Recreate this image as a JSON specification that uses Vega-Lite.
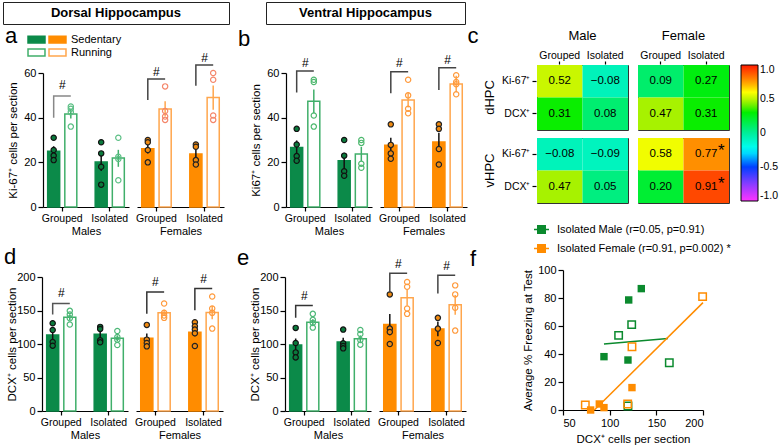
{
"$schema": "https://vega.github.io/schema/vega-lite/v6.json",
"padding": {"left": 2, "top": 1, "right": 0, "bottom": 0},
"background": "white",
"config": {
  "font": "Liberation Sans",
  "view": {"stroke": null},
  "axis": {"domainColor": "#000000", "tickColor": "#000000", "labelColor": "#000000", "titleColor": "#000000", "grid": false, "titleFontWeight": "normal", "domainWidth": 1.2, "tickWidth": 1.2},
  "legend": {"labelColor": "#000000", "titleColor": "#000000"},
  "header": {"labelColor": "#000000"},
  "title": {"color": "#000000", "fontWeight": "normal"}
},
"datasets": {
  "bars": [
    {"panel":"a","sex":"Male","housing":"Grouped","activity":"Sedentary","grp":"Male Sedentary","v":25,"lo":22.8,"hi":27.2},
    {"panel":"a","sex":"Male","housing":"Grouped","activity":"Running","grp":"Male Running","v":41.6,"lo":39.6,"hi":43.6},
    {"panel":"a","sex":"Male","housing":"Isolated","activity":"Sedentary","grp":"Male Sedentary","v":20.1,"lo":16.1,"hi":24.1},
    {"panel":"a","sex":"Male","housing":"Isolated","activity":"Running","grp":"Male Running","v":21.9,"lo":18,"hi":25.6},
    {"panel":"a","sex":"Female","housing":"Grouped","activity":"Sedentary","grp":"Female Sedentary","v":26.1,"lo":23.9,"hi":28.4},
    {"panel":"a","sex":"Female","housing":"Grouped","activity":"Running","grp":"Female Running","v":43.9,"lo":40.5,"hi":47.4},
    {"panel":"a","sex":"Female","housing":"Isolated","activity":"Sedentary","grp":"Female Sedentary","v":23.7,"lo":21.4,"hi":26},
    {"panel":"a","sex":"Female","housing":"Isolated","activity":"Running","grp":"Female Running","v":49,"lo":43.6,"hi":54.4},
    {"panel":"b","sex":"Male","housing":"Grouped","activity":"Sedentary","grp":"Male Sedentary","v":26.6,"lo":23.4,"hi":29.8},
    {"panel":"b","sex":"Male","housing":"Grouped","activity":"Running","grp":"Male Running","v":47.3,"lo":42,"hi":52.6},
    {"panel":"b","sex":"Male","housing":"Isolated","activity":"Sedentary","grp":"Male Sedentary","v":20.7,"lo":17.1,"hi":24.3},
    {"panel":"b","sex":"Male","housing":"Isolated","activity":"Running","grp":"Male Running","v":23.7,"lo":20.5,"hi":26.9},
    {"panel":"b","sex":"Female","housing":"Grouped","activity":"Sedentary","grp":"Female Sedentary","v":27.6,"lo":24.2,"hi":31},
    {"panel":"b","sex":"Female","housing":"Grouped","activity":"Running","grp":"Female Running","v":47.9,"lo":44.5,"hi":51.3},
    {"panel":"b","sex":"Female","housing":"Isolated","activity":"Sedentary","grp":"Female Sedentary","v":29.1,"lo":24.9,"hi":33.3},
    {"panel":"b","sex":"Female","housing":"Isolated","activity":"Running","grp":"Female Running","v":55.1,"lo":51.4,"hi":58.8},
    {"panel":"d","sex":"Male","housing":"Grouped","activity":"Sedentary","grp":"Male Sedentary","v":113.5,"lo":105.7,"hi":121.3},
    {"panel":"d","sex":"Male","housing":"Grouped","activity":"Running","grp":"Male Running","v":140,"lo":135.6,"hi":144.4},
    {"panel":"d","sex":"Male","housing":"Isolated","activity":"Sedentary","grp":"Male Sedentary","v":114.5,"lo":108.7,"hi":120.3},
    {"panel":"d","sex":"Male","housing":"Isolated","activity":"Running","grp":"Male Running","v":108.5,"lo":104.1,"hi":112.9},
    {"panel":"d","sex":"Female","housing":"Grouped","activity":"Sedentary","grp":"Female Sedentary","v":108.5,"lo":101.5,"hi":115.5},
    {"panel":"d","sex":"Female","housing":"Grouped","activity":"Running","grp":"Female Running","v":146.5,"lo":141.8,"hi":151.2},
    {"panel":"d","sex":"Female","housing":"Isolated","activity":"Sedentary","grp":"Female Sedentary","v":117.5,"lo":111.4,"hi":123.6},
    {"panel":"d","sex":"Female","housing":"Isolated","activity":"Running","grp":"Female Running","v":147,"lo":137.1,"hi":156.9},
    {"panel":"e","sex":"Male","housing":"Grouped","activity":"Sedentary","grp":"Male Sedentary","v":98.5,"lo":88.8,"hi":108.2},
    {"panel":"e","sex":"Male","housing":"Grouped","activity":"Running","grp":"Male Running","v":132.5,"lo":128.1,"hi":136.9},
    {"panel":"e","sex":"Male","housing":"Isolated","activity":"Sedentary","grp":"Male Sedentary","v":103,"lo":96.7,"hi":109.3},
    {"panel":"e","sex":"Male","housing":"Isolated","activity":"Running","grp":"Male Running","v":108,"lo":103.1,"hi":112.9},
    {"panel":"e","sex":"Female","housing":"Grouped","activity":"Sedentary","grp":"Female Sedentary","v":129,"lo":113.1,"hi":144.9},
    {"panel":"e","sex":"Female","housing":"Grouped","activity":"Running","grp":"Female Running","v":169,"lo":157.3,"hi":180.7},
    {"panel":"e","sex":"Female","housing":"Isolated","activity":"Sedentary","grp":"Female Sedentary","v":122.5,"lo":111.6,"hi":133.4},
    {"panel":"e","sex":"Female","housing":"Isolated","activity":"Running","grp":"Female Running","v":158.5,"lo":143.8,"hi":173.2}
  ],
  "pts": [
    {"panel":"a","sex":"Male","housing":"Grouped","activity":"Sedentary","v":31},
    {"panel":"a","sex":"Male","housing":"Grouped","activity":"Sedentary","v":25.5},
    {"panel":"a","sex":"Male","housing":"Grouped","activity":"Sedentary","v":23},
    {"panel":"a","sex":"Male","housing":"Grouped","activity":"Sedentary","v":21},
    {"panel":"a","sex":"Male","housing":"Grouped","activity":"Running","v":45},
    {"panel":"a","sex":"Male","housing":"Grouped","activity":"Running","v":44},
    {"panel":"a","sex":"Male","housing":"Grouped","activity":"Running","v":42.5},
    {"panel":"a","sex":"Male","housing":"Grouped","activity":"Running","v":36},
    {"panel":"a","sex":"Male","housing":"Isolated","activity":"Sedentary","v":29},
    {"panel":"a","sex":"Male","housing":"Isolated","activity":"Sedentary","v":24},
    {"panel":"a","sex":"Male","housing":"Isolated","activity":"Sedentary","v":18},
    {"panel":"a","sex":"Male","housing":"Isolated","activity":"Sedentary","v":10},
    {"panel":"a","sex":"Male","housing":"Isolated","activity":"Running","v":31},
    {"panel":"a","sex":"Male","housing":"Isolated","activity":"Running","v":22.5},
    {"panel":"a","sex":"Male","housing":"Isolated","activity":"Running","v":21.5},
    {"panel":"a","sex":"Male","housing":"Isolated","activity":"Running","v":12},
    {"panel":"a","sex":"Female","housing":"Grouped","activity":"Sedentary","v":30},
    {"panel":"a","sex":"Female","housing":"Grouped","activity":"Sedentary","v":29},
    {"panel":"a","sex":"Female","housing":"Grouped","activity":"Sedentary","v":25.5},
    {"panel":"a","sex":"Female","housing":"Grouped","activity":"Sedentary","v":20},
    {"panel":"a","sex":"Female","housing":"Grouped","activity":"Running","v":54},
    {"panel":"a","sex":"Female","housing":"Grouped","activity":"Running","v":43},
    {"panel":"a","sex":"Female","housing":"Grouped","activity":"Running","v":40.5},
    {"panel":"a","sex":"Female","housing":"Grouped","activity":"Running","v":39},
    {"panel":"a","sex":"Female","housing":"Isolated","activity":"Sedentary","v":28},
    {"panel":"a","sex":"Female","housing":"Isolated","activity":"Sedentary","v":27},
    {"panel":"a","sex":"Female","housing":"Isolated","activity":"Sedentary","v":21},
    {"panel":"a","sex":"Female","housing":"Isolated","activity":"Sedentary","v":19},
    {"panel":"a","sex":"Female","housing":"Isolated","activity":"Running","v":60},
    {"panel":"a","sex":"Female","housing":"Isolated","activity":"Running","v":57},
    {"panel":"a","sex":"Female","housing":"Isolated","activity":"Running","v":41},
    {"panel":"a","sex":"Female","housing":"Isolated","activity":"Running","v":39},
    {"panel":"b","sex":"Male","housing":"Grouped","activity":"Sedentary","v":35},
    {"panel":"b","sex":"Male","housing":"Grouped","activity":"Sedentary","v":28},
    {"panel":"b","sex":"Male","housing":"Grouped","activity":"Sedentary","v":22.8},
    {"panel":"b","sex":"Male","housing":"Grouped","activity":"Sedentary","v":20.7},
    {"panel":"b","sex":"Male","housing":"Grouped","activity":"Running","v":57},
    {"panel":"b","sex":"Male","housing":"Grouped","activity":"Running","v":56},
    {"panel":"b","sex":"Male","housing":"Grouped","activity":"Running","v":41},
    {"panel":"b","sex":"Male","housing":"Grouped","activity":"Running","v":36},
    {"panel":"b","sex":"Male","housing":"Isolated","activity":"Sedentary","v":30},
    {"panel":"b","sex":"Male","housing":"Isolated","activity":"Sedentary","v":23},
    {"panel":"b","sex":"Male","housing":"Isolated","activity":"Sedentary","v":16},
    {"panel":"b","sex":"Male","housing":"Isolated","activity":"Sedentary","v":14},
    {"panel":"b","sex":"Male","housing":"Isolated","activity":"Running","v":30},
    {"panel":"b","sex":"Male","housing":"Isolated","activity":"Running","v":28.7},
    {"panel":"b","sex":"Male","housing":"Isolated","activity":"Running","v":19.4},
    {"panel":"b","sex":"Male","housing":"Isolated","activity":"Running","v":17.6},
    {"panel":"b","sex":"Female","housing":"Grouped","activity":"Sedentary","v":37},
    {"panel":"b","sex":"Female","housing":"Grouped","activity":"Sedentary","v":27.8},
    {"panel":"b","sex":"Female","housing":"Grouped","activity":"Sedentary","v":24},
    {"panel":"b","sex":"Female","housing":"Grouped","activity":"Sedentary","v":21.6},
    {"panel":"b","sex":"Female","housing":"Grouped","activity":"Running","v":57},
    {"panel":"b","sex":"Female","housing":"Grouped","activity":"Running","v":50},
    {"panel":"b","sex":"Female","housing":"Grouped","activity":"Running","v":44},
    {"panel":"b","sex":"Female","housing":"Grouped","activity":"Running","v":42},
    {"panel":"b","sex":"Female","housing":"Isolated","activity":"Sedentary","v":37},
    {"panel":"b","sex":"Female","housing":"Isolated","activity":"Sedentary","v":35},
    {"panel":"b","sex":"Female","housing":"Isolated","activity":"Sedentary","v":26},
    {"panel":"b","sex":"Female","housing":"Isolated","activity":"Sedentary","v":19},
    {"panel":"b","sex":"Female","housing":"Isolated","activity":"Running","v":59},
    {"panel":"b","sex":"Female","housing":"Isolated","activity":"Running","v":56},
    {"panel":"b","sex":"Female","housing":"Isolated","activity":"Running","v":55},
    {"panel":"b","sex":"Female","housing":"Isolated","activity":"Running","v":50.5},
    {"panel":"d","sex":"Male","housing":"Grouped","activity":"Sedentary","v":131},
    {"panel":"d","sex":"Male","housing":"Grouped","activity":"Sedentary","v":121},
    {"panel":"d","sex":"Male","housing":"Grouped","activity":"Sedentary","v":103},
    {"panel":"d","sex":"Male","housing":"Grouped","activity":"Sedentary","v":97.5},
    {"panel":"d","sex":"Male","housing":"Grouped","activity":"Running","v":149.5},
    {"panel":"d","sex":"Male","housing":"Grouped","activity":"Running","v":144},
    {"panel":"d","sex":"Male","housing":"Grouped","activity":"Running","v":138.5},
    {"panel":"d","sex":"Male","housing":"Grouped","activity":"Running","v":129},
    {"panel":"d","sex":"Male","housing":"Isolated","activity":"Sedentary","v":125.5},
    {"panel":"d","sex":"Male","housing":"Isolated","activity":"Sedentary","v":122.5},
    {"panel":"d","sex":"Male","housing":"Isolated","activity":"Sedentary","v":105.5},
    {"panel":"d","sex":"Male","housing":"Isolated","activity":"Sedentary","v":102.5},
    {"panel":"d","sex":"Male","housing":"Isolated","activity":"Running","v":119.5},
    {"panel":"d","sex":"Male","housing":"Isolated","activity":"Running","v":110.5},
    {"panel":"d","sex":"Male","housing":"Isolated","activity":"Running","v":106.5},
    {"panel":"d","sex":"Male","housing":"Isolated","activity":"Running","v":98.5},
    {"panel":"d","sex":"Female","housing":"Grouped","activity":"Sedentary","v":128.5},
    {"panel":"d","sex":"Female","housing":"Grouped","activity":"Sedentary","v":106.5},
    {"panel":"d","sex":"Female","housing":"Grouped","activity":"Sedentary","v":101.5},
    {"panel":"d","sex":"Female","housing":"Grouped","activity":"Sedentary","v":96.5},
    {"panel":"d","sex":"Female","housing":"Grouped","activity":"Running","v":160.5},
    {"panel":"d","sex":"Female","housing":"Grouped","activity":"Running","v":146.5},
    {"panel":"d","sex":"Female","housing":"Grouped","activity":"Running","v":142.5},
    {"panel":"d","sex":"Female","housing":"Grouped","activity":"Running","v":139},
    {"panel":"d","sex":"Female","housing":"Isolated","activity":"Sedentary","v":132.5},
    {"panel":"d","sex":"Female","housing":"Isolated","activity":"Sedentary","v":126.5},
    {"panel":"d","sex":"Female","housing":"Isolated","activity":"Sedentary","v":121.5},
    {"panel":"d","sex":"Female","housing":"Isolated","activity":"Sedentary","v":116},
    {"panel":"d","sex":"Female","housing":"Isolated","activity":"Sedentary","v":97},
    {"panel":"d","sex":"Female","housing":"Isolated","activity":"Running","v":171},
    {"panel":"d","sex":"Female","housing":"Isolated","activity":"Running","v":153},
    {"panel":"d","sex":"Female","housing":"Isolated","activity":"Running","v":146.5},
    {"panel":"d","sex":"Female","housing":"Isolated","activity":"Running","v":123},
    {"panel":"e","sex":"Male","housing":"Grouped","activity":"Sedentary","v":124},
    {"panel":"e","sex":"Male","housing":"Grouped","activity":"Sedentary","v":101.5},
    {"panel":"e","sex":"Male","housing":"Grouped","activity":"Sedentary","v":87.5},
    {"panel":"e","sex":"Male","housing":"Grouped","activity":"Sedentary","v":80},
    {"panel":"e","sex":"Male","housing":"Grouped","activity":"Running","v":145},
    {"panel":"e","sex":"Male","housing":"Grouped","activity":"Running","v":136},
    {"panel":"e","sex":"Male","housing":"Grouped","activity":"Running","v":131.5},
    {"panel":"e","sex":"Male","housing":"Grouped","activity":"Running","v":124.5},
    {"panel":"e","sex":"Male","housing":"Isolated","activity":"Sedentary","v":121.5},
    {"panel":"e","sex":"Male","housing":"Isolated","activity":"Sedentary","v":101},
    {"panel":"e","sex":"Male","housing":"Isolated","activity":"Sedentary","v":97},
    {"panel":"e","sex":"Male","housing":"Isolated","activity":"Sedentary","v":93.5},
    {"panel":"e","sex":"Male","housing":"Isolated","activity":"Running","v":121},
    {"panel":"e","sex":"Male","housing":"Isolated","activity":"Running","v":115},
    {"panel":"e","sex":"Male","housing":"Isolated","activity":"Running","v":106},
    {"panel":"e","sex":"Male","housing":"Isolated","activity":"Running","v":99},
    {"panel":"e","sex":"Female","housing":"Grouped","activity":"Sedentary","v":174},
    {"panel":"e","sex":"Female","housing":"Grouped","activity":"Sedentary","v":123},
    {"panel":"e","sex":"Female","housing":"Grouped","activity":"Sedentary","v":118},
    {"panel":"e","sex":"Female","housing":"Grouped","activity":"Sedentary","v":100},
    {"panel":"e","sex":"Female","housing":"Grouped","activity":"Running","v":192.5},
    {"panel":"e","sex":"Female","housing":"Grouped","activity":"Running","v":185.5},
    {"panel":"e","sex":"Female","housing":"Grouped","activity":"Running","v":153},
    {"panel":"e","sex":"Female","housing":"Grouped","activity":"Running","v":145},
    {"panel":"e","sex":"Female","housing":"Isolated","activity":"Sedentary","v":139},
    {"panel":"e","sex":"Female","housing":"Isolated","activity":"Sedentary","v":123},
    {"panel":"e","sex":"Female","housing":"Isolated","activity":"Sedentary","v":101.5},
    {"panel":"e","sex":"Female","housing":"Isolated","activity":"Running","v":187.5},
    {"panel":"e","sex":"Female","housing":"Isolated","activity":"Running","v":174},
    {"panel":"e","sex":"Female","housing":"Isolated","activity":"Running","v":154},
    {"panel":"e","sex":"Female","housing":"Isolated","activity":"Running","v":120}
  ],
  "brk": [
    {"panel":"a","sex":"Male","housing":"Grouped","activity":"Sedentary","v":40,"ord":1},
    {"panel":"a","sex":"Male","housing":"Grouped","activity":"Sedentary","v":49.7,"ord":2},
    {"panel":"a","sex":"Male","housing":"Grouped","activity":"Running","v":49.7,"ord":3},
    {"panel":"a","sex":"Female","housing":"Grouped","activity":"Sedentary","v":47.9,"ord":1},
    {"panel":"a","sex":"Female","housing":"Grouped","activity":"Sedentary","v":57.3,"ord":2},
    {"panel":"a","sex":"Female","housing":"Grouped","activity":"Running","v":57.3,"ord":3},
    {"panel":"a","sex":"Female","housing":"Isolated","activity":"Sedentary","v":54.3,"ord":1},
    {"panel":"a","sex":"Female","housing":"Isolated","activity":"Sedentary","v":63.6,"ord":2},
    {"panel":"a","sex":"Female","housing":"Isolated","activity":"Running","v":63.6,"ord":3},
    {"panel":"b","sex":"Male","housing":"Grouped","activity":"Sedentary","v":51.3,"ord":1},
    {"panel":"b","sex":"Male","housing":"Grouped","activity":"Sedentary","v":60.9,"ord":2},
    {"panel":"b","sex":"Male","housing":"Grouped","activity":"Running","v":60.9,"ord":3},
    {"panel":"b","sex":"Female","housing":"Grouped","activity":"Sedentary","v":50.9,"ord":1},
    {"panel":"b","sex":"Female","housing":"Grouped","activity":"Sedentary","v":60.6,"ord":2},
    {"panel":"b","sex":"Female","housing":"Grouped","activity":"Running","v":60.6,"ord":3},
    {"panel":"b","sex":"Female","housing":"Isolated","activity":"Sedentary","v":52.4,"ord":1},
    {"panel":"b","sex":"Female","housing":"Isolated","activity":"Sedentary","v":62.4,"ord":2},
    {"panel":"b","sex":"Female","housing":"Isolated","activity":"Running","v":62.4,"ord":3},
    {"panel":"d","sex":"Male","housing":"Grouped","activity":"Sedentary","v":144,"ord":1},
    {"panel":"d","sex":"Male","housing":"Grouped","activity":"Sedentary","v":160.5,"ord":2},
    {"panel":"d","sex":"Male","housing":"Grouped","activity":"Running","v":160.5,"ord":3},
    {"panel":"d","sex":"Female","housing":"Grouped","activity":"Sedentary","v":145,"ord":1},
    {"panel":"d","sex":"Female","housing":"Grouped","activity":"Sedentary","v":177.5,"ord":2},
    {"panel":"d","sex":"Female","housing":"Grouped","activity":"Running","v":177.5,"ord":3},
    {"panel":"d","sex":"Female","housing":"Isolated","activity":"Sedentary","v":150.5,"ord":1},
    {"panel":"d","sex":"Female","housing":"Isolated","activity":"Sedentary","v":183,"ord":2},
    {"panel":"d","sex":"Female","housing":"Isolated","activity":"Running","v":183,"ord":3},
    {"panel":"e","sex":"Male","housing":"Grouped","activity":"Sedentary","v":139,"ord":1},
    {"panel":"e","sex":"Male","housing":"Grouped","activity":"Sedentary","v":157.5,"ord":2},
    {"panel":"e","sex":"Male","housing":"Grouped","activity":"Running","v":157.5,"ord":3},
    {"panel":"e","sex":"Female","housing":"Grouped","activity":"Sedentary","v":176.5,"ord":1},
    {"panel":"e","sex":"Female","housing":"Grouped","activity":"Sedentary","v":205.5,"ord":2},
    {"panel":"e","sex":"Female","housing":"Grouped","activity":"Running","v":205.5,"ord":3},
    {"panel":"e","sex":"Female","housing":"Isolated","activity":"Sedentary","v":175.5,"ord":1},
    {"panel":"e","sex":"Female","housing":"Isolated","activity":"Sedentary","v":202.5,"ord":2},
    {"panel":"e","sex":"Female","housing":"Isolated","activity":"Running","v":202.5,"ord":3}
  ],
  "hash": [
    {"panel":"a","sex":"Male","housing":"Grouped","v":54.6,"lab":"#"},
    {"panel":"a","sex":"Female","housing":"Grouped","v":60.3,"lab":"#"},
    {"panel":"a","sex":"Female","housing":"Isolated","v":66.7,"lab":"#"},
    {"panel":"b","sex":"Male","housing":"Grouped","v":64.6,"lab":"#"},
    {"panel":"b","sex":"Female","housing":"Grouped","v":64.6,"lab":"#"},
    {"panel":"b","sex":"Female","housing":"Isolated","v":65.8,"lab":"#"},
    {"panel":"d","sex":"Male","housing":"Grouped","v":176.5,"lab":"#"},
    {"panel":"d","sex":"Female","housing":"Grouped","v":192.5,"lab":"#"},
    {"panel":"d","sex":"Female","housing":"Isolated","v":197.5,"lab":"#"},
    {"panel":"e","sex":"Male","housing":"Grouped","v":171.5,"lab":"#"},
    {"panel":"e","sex":"Female","housing":"Grouped","v":219,"lab":"#"},
    {"panel":"e","sex":"Female","housing":"Isolated","v":216.6,"lab":"#"}
  ],
  "heat": [
    {"region":"dHPC","marker":"Ki-67⁺","sex":"Male","housing":"Grouped","r":0.52,"sig":""},
    {"region":"dHPC","marker":"Ki-67⁺","sex":"Male","housing":"Isolated","r":-0.08,"sig":""},
    {"region":"dHPC","marker":"Ki-67⁺","sex":"Female","housing":"Grouped","r":0.09,"sig":""},
    {"region":"dHPC","marker":"Ki-67⁺","sex":"Female","housing":"Isolated","r":0.27,"sig":""},
    {"region":"dHPC","marker":"DCX⁺","sex":"Male","housing":"Grouped","r":0.31,"sig":""},
    {"region":"dHPC","marker":"DCX⁺","sex":"Male","housing":"Isolated","r":0.08,"sig":""},
    {"region":"dHPC","marker":"DCX⁺","sex":"Female","housing":"Grouped","r":0.47,"sig":""},
    {"region":"dHPC","marker":"DCX⁺","sex":"Female","housing":"Isolated","r":0.31,"sig":""},
    {"region":"vHPC","marker":"Ki-67⁺","sex":"Male","housing":"Grouped","r":-0.08,"sig":""},
    {"region":"vHPC","marker":"Ki-67⁺","sex":"Male","housing":"Isolated","r":-0.09,"sig":""},
    {"region":"vHPC","marker":"Ki-67⁺","sex":"Female","housing":"Grouped","r":0.58,"sig":""},
    {"region":"vHPC","marker":"Ki-67⁺","sex":"Female","housing":"Isolated","r":0.77,"sig":"*"},
    {"region":"vHPC","marker":"DCX⁺","sex":"Male","housing":"Grouped","r":0.47,"sig":""},
    {"region":"vHPC","marker":"DCX⁺","sex":"Male","housing":"Isolated","r":0.05,"sig":""},
    {"region":"vHPC","marker":"DCX⁺","sex":"Female","housing":"Grouped","r":0.20,"sig":""},
    {"region":"vHPC","marker":"DCX⁺","sex":"Female","housing":"Isolated","r":0.91,"sig":"*"}
  ],
  "scat": [
    {"grp":"Isolated Male (r=0.05, p=0.91)","activity":"Sedentary","x":133.9,"y":86.7},
    {"grp":"Isolated Male (r=0.05, p=0.91)","activity":"Sedentary","x":120.4,"y":78.6},
    {"grp":"Isolated Male (r=0.05, p=0.91)","activity":"Sedentary","x":93.9,"y":38.1},
    {"grp":"Isolated Male (r=0.05, p=0.91)","activity":"Sedentary","x":119.6,"y":35.7},
    {"grp":"Isolated Male (r=0.05, p=0.91)","activity":"Running","x":109.6,"y":53.3},
    {"grp":"Isolated Male (r=0.05, p=0.91)","activity":"Running","x":123.6,"y":61},
    {"grp":"Isolated Male (r=0.05, p=0.91)","activity":"Running","x":163.9,"y":33.8},
    {"grp":"Isolated Male (r=0.05, p=0.91)","activity":"Running","x":119.6,"y":2.9},
    {"grp":"Isolated Female (r=0.91, p=0.002)","activity":"Sedentary","x":123.9,"y":16},
    {"grp":"Isolated Female (r=0.91, p=0.002)","activity":"Sedentary","x":88.9,"y":4.3},
    {"grp":"Isolated Female (r=0.91, p=0.002)","activity":"Sedentary","x":79.6,"y":0},
    {"grp":"Isolated Female (r=0.91, p=0.002)","activity":"Sedentary","x":93.9,"y":1.7},
    {"grp":"Isolated Female (r=0.91, p=0.002)","activity":"Running","x":199.6,"y":81},
    {"grp":"Isolated Female (r=0.91, p=0.002)","activity":"Running","x":123.9,"y":45.2},
    {"grp":"Isolated Female (r=0.91, p=0.002)","activity":"Running","x":73.9,"y":3.6},
    {"grp":"Isolated Female (r=0.91, p=0.002)","activity":"Running","x":119.3,"y":4.3}
  ],
  "reg": [
    {"grp":"Isolated Male (r=0.05, p=0.91)","x":93.9,"y":47.1},
    {"grp":"Isolated Male (r=0.05, p=0.91)","x":162.5,"y":51},
    {"grp":"Isolated Female (r=0.91, p=0.002)","x":83.6,"y":0},
    {"grp":"Isolated Female (r=0.91, p=0.002)","x":200,"y":76.7}
  ]
},
"resolve": {"scale": {"fill": "independent", "stroke": "independent", "color": "independent", "xOffset": "independent"}, "legend": {"fill": "independent", "stroke": "independent", "color": "independent"}},
"spacing": 0,
"hconcat": [
  {
    "spacing": 9,
    "resolve": {"scale": {"fill": "independent", "stroke": "independent", "color": "independent", "xOffset": "independent"}, "legend": {"fill": "independent", "stroke": "independent", "color": "independent"}},
    "vconcat": [
      {
        "spacing": 0,
        "resolve": {"scale": {"fill": "independent", "stroke": "independent", "color": "independent", "xOffset": "independent"}, "legend": {"fill": "independent", "stroke": "independent", "color": "independent"}},
        "vconcat": [
          {
            "spacing": 35,
            "hconcat": [
              {"width": 226, "height": 22, "view": {"stroke": "#222222", "strokeWidth": 1}, "data": {"values": [{"t": "Dorsal Hippocampus"}]}, "mark": {"type": "text", "fontSize": 13, "fontWeight": "bold"}, "encoding": {"text": {"field": "t"}}},
              {"width": 199, "height": 22, "view": {"stroke": "#222222", "strokeWidth": 1}, "data": {"values": [{"t": "Ventral Hippocampus"}]}, "mark": {"type": "text", "fontSize": 13, "fontWeight": "bold"}, "encoding": {"text": {"field": "t"}}}
            ]
          },
          {
            "spacing": 14,
            "resolve": {"scale": {"fill": "independent", "stroke": "independent", "color": "independent", "xOffset": "independent"}, "legend": {"fill": "independent", "stroke": "independent", "color": "independent"}},
            "hconcat": [
              {
                "spacing": 0,
                "resolve": {"scale": {"fill": "independent", "stroke": "independent", "color": "independent", "xOffset": "independent"}, "legend": {"fill": "independent", "stroke": "independent", "color": "independent"}},
                "hconcat": [
                  {"width": 1, "height": 1, "data": {"values": [{}]}, "mark": {"type": "point", "size": 0, "opacity": 0}, "encoding": {}},
                  {
                    "title": {"text": "a", "anchor": "start", "frame": "bounds", "fontSize": 22, "dx": -2, "offset": -14},
                    "spacing": 6,
                    "resolve": {"scale": {"fill": "independent", "stroke": "independent", "color": "independent", "xOffset": "independent"}, "legend": {"fill": "independent", "stroke": "independent", "color": "independent"}},
                    "hconcat": [
                      {
                        "width": 86, "height": 134,
                        "encoding": {
                          "x": {"field": "housing", "type": "nominal", "title": "Males", "scale": {"domain": ["Grouped", "Isolated"], "paddingInner": 0.25, "paddingOuter": 0.03}, "axis": {"labelAngle": 0, "labelFontSize": 10.5, "titleFontSize": 11, "tickSize": 4, "labelPadding": 2, "titlePadding": 2}},
                          "y": {"field": "v", "type": "quantitative", "title": "Ki-67⁺ cells per section", "scale": {"domain": [0, 60], "nice": false}, "axis": {"values": [0, 20, 40, 60], "labelFontSize": 11, "titleFontSize": 11.5, "tickSize": 5, "labelPadding": 2, "minExtent": 22, "maxExtent": 22, "titlePadding": 3}}
                        },
                        "layer": [
                          {"data": {"name": "bars"}, "transform": [{"filter": "datum.panel == 'a' && datum.sex == 'Male'"}], "mark": {"type": "bar", "strokeWidth": 1.5},
                           "encoding": {"xOffset": {"field": "activity", "type": "nominal", "scale": {"domain": ["Sedentary", "Running"], "paddingInner": 0.3, "paddingOuter": 0.19}},
                             "fill": {"field": "grp", "type": "nominal", "scale": {"domain": ["Male Sedentary", "Male Running", "Female Sedentary", "Female Running"], "range": ["#0B8A49", "#FFFFFF", "#FF8C00", "#FFFFFF"]},
                               "legend": {"title": null, "orient": "none", "legendX": -12, "legendY": -39, "columns": 2, "symbolType": "M-2,-0.8H2V0.8H-2Z", "symbolSize": 72, "symbolStrokeWidth": 1.5, "labelFontSize": 11, "labelOffset": 8, "columnPadding": -4, "rowPadding": 0, "labelExpr": "datum.label == 'Female Sedentary' ? 'Sedentary' : datum.label == 'Female Running' ? 'Running' : ''"}},
                             "stroke": {"field": "grp", "type": "nominal", "scale": {"domain": ["Male Sedentary", "Male Running", "Female Sedentary", "Female Running"], "range": ["#0B8A49", "#40AF6A", "#FF8C00", "#FFA64D"]},
                               "legend": {"title": null, "orient": "none", "legendX": -12, "legendY": -39, "columns": 2, "symbolType": "M-2,-0.8H2V0.8H-2Z", "symbolSize": 72, "symbolStrokeWidth": 1.5, "labelFontSize": 11, "labelOffset": 8, "columnPadding": -4, "rowPadding": 0, "labelExpr": "datum.label == 'Female Sedentary' ? 'Sedentary' : datum.label == 'Female Running' ? 'Running' : ''"}}}},
                          {"data": {"name": "bars"}, "transform": [{"filter": "datum.panel == 'a' && datum.sex == 'Male'"}], "mark": {"type": "rule", "strokeWidth": 1.5},
                           "encoding": {"xOffset": {"field": "activity", "type": "nominal"}, "y": {"field": "lo", "type": "quantitative"}, "y2": {"field": "hi"}, "color": {"condition": {"test": "datum.activity == 'Sedentary'", "value": "#111111"}, "value": "#40AF6A"}}},
                          {"data": {"name": "pts"}, "transform": [{"filter": "datum.panel == 'a' && datum.sex == 'Male'"}], "mark": {"type": "point", "shape": "circle", "size": 28, "strokeWidth": 1.2, "opacity": 1},
                           "encoding": {"xOffset": {"field": "activity", "type": "nominal"}, "fill": {"condition": {"test": "datum.activity == 'Sedentary'", "value": "#0A7A3C"}, "value": "transparent"}, "stroke": {"condition": {"test": "datum.activity == 'Sedentary'", "value": "#111111"}, "value": "#5CBF85"}}},
                          {"data": {"name": "brk"}, "transform": [{"filter": "datum.panel == 'a' && datum.sex == 'Male'"}], "mark": {"type": "line", "strokeWidth": 1.5, "color": "#888888"},
                           "encoding": {"xOffset": {"field": "activity", "type": "nominal"}, "detail": {"field": "housing"}, "order": {"field": "ord", "type": "quantitative"}}},
                          {"data": {"name": "hash"}, "transform": [{"filter": "datum.panel == 'a' && datum.sex == 'Male'"}], "mark": {"type": "text", "fontSize": 12, "color": "#000000"}, "encoding": {"text": {"field": "lab"}}}
                        ]
                      },
                      {
                        "width": 87, "height": 134,
                        "encoding": {
                          "x": {"field": "housing", "type": "nominal", "title": "Females", "scale": {"domain": ["Grouped", "Isolated"], "paddingInner": 0.25, "paddingOuter": 0.03}, "axis": {"labelAngle": 0, "labelFontSize": 10.5, "titleFontSize": 11, "tickSize": 4, "labelPadding": 2, "titlePadding": 2}},
                          "y": {"field": "v", "type": "quantitative", "scale": {"domain": [0, 60], "nice": false}, "axis": null}
                        },
                        "layer": [
                          {"data": {"name": "bars"}, "transform": [{"filter": "datum.panel == 'a' && datum.sex == 'Female'"}], "mark": {"type": "bar", "strokeWidth": 1.5},
                           "encoding": {"xOffset": {"field": "activity", "type": "nominal", "scale": {"domain": ["Sedentary", "Running"], "paddingInner": 0.3, "paddingOuter": 0.19}},
                             "fill": {"field": "grp", "type": "nominal", "scale": {"domain": ["Male Sedentary", "Male Running", "Female Sedentary", "Female Running"], "range": ["#0B8A49", "#FFFFFF", "#FF8C00", "#FFFFFF"]}, "legend": null},
                             "stroke": {"field": "grp", "type": "nominal", "scale": {"domain": ["Male Sedentary", "Male Running", "Female Sedentary", "Female Running"], "range": ["#0B8A49", "#40AF6A", "#FF8C00", "#FFA64D"]}, "legend": null}}},
                          {"data": {"name": "bars"}, "transform": [{"filter": "datum.panel == 'a' && datum.sex == 'Female'"}], "mark": {"type": "rule", "strokeWidth": 1.5},
                           "encoding": {"xOffset": {"field": "activity", "type": "nominal"}, "y": {"field": "lo", "type": "quantitative"}, "y2": {"field": "hi"}, "color": {"condition": {"test": "datum.activity == 'Sedentary'", "value": "#111111"}, "value": "#FFA64D"}}},
                          {"data": {"name": "pts"}, "transform": [{"filter": "datum.panel == 'a' && datum.sex == 'Female'"}], "mark": {"type": "point", "shape": "circle", "size": 28, "strokeWidth": 1.2, "opacity": 1},
                           "encoding": {"xOffset": {"field": "activity", "type": "nominal"}, "fill": {"condition": {"test": "datum.activity == 'Sedentary'", "value": "#F08A10"}, "value": "transparent"}, "stroke": {"condition": {"test": "datum.activity == 'Sedentary'", "value": "#222222"}, "value": "#F4866A"}}},
                          {"data": {"name": "brk"}, "transform": [{"filter": "datum.panel == 'a' && datum.sex == 'Female'"}], "mark": {"type": "line", "strokeWidth": 1.5, "color": "#444444"},
                           "encoding": {"xOffset": {"field": "activity", "type": "nominal"}, "detail": {"field": "housing"}, "order": {"field": "ord", "type": "quantitative"}}},
                          {"data": {"name": "hash"}, "transform": [{"filter": "datum.panel == 'a' && datum.sex == 'Female'"}], "mark": {"type": "text", "fontSize": 12, "color": "#000000"}, "encoding": {"text": {"field": "lab"}}}
                        ]
                      }
                    ]
                  }
                ]
              },
              {
                "title": {"text": "b", "anchor": "start", "frame": "bounds", "fontSize": 22, "dx": -12, "offset": 3},
                "spacing": 6,
                "resolve": {"scale": {"fill": "independent", "stroke": "independent", "color": "independent", "xOffset": "independent"}, "legend": {"fill": "independent", "stroke": "independent", "color": "independent"}},
                "hconcat": [
                  {
                    "width": 86, "height": 134,
                    "encoding": {
                      "x": {"field": "housing", "type": "nominal", "title": "Males", "scale": {"domain": ["Grouped", "Isolated"], "paddingInner": 0.25, "paddingOuter": 0.03}, "axis": {"labelAngle": 0, "labelFontSize": 10.5, "titleFontSize": 11, "tickSize": 4, "labelPadding": 2, "titlePadding": 2}},
                      "y": {"field": "v", "type": "quantitative", "title": "Ki67⁺ cells per section", "scale": {"domain": [0, 60], "nice": false}, "axis": {"values": [0, 20, 40, 60], "labelFontSize": 11, "titleFontSize": 11.5, "tickSize": 5, "labelPadding": 2, "minExtent": 22, "maxExtent": 22, "titlePadding": 3}}
                    },
                    "layer": [
                      {"data": {"name": "bars"}, "transform": [{"filter": "datum.panel == 'b' && datum.sex == 'Male'"}], "mark": {"type": "bar", "strokeWidth": 1.5},
                       "encoding": {"xOffset": {"field": "activity", "type": "nominal", "scale": {"domain": ["Sedentary", "Running"], "paddingInner": 0.3, "paddingOuter": 0.19}},
                         "fill": {"field": "grp", "type": "nominal", "scale": {"domain": ["Male Sedentary", "Male Running", "Female Sedentary", "Female Running"], "range": ["#0B8A49", "#FFFFFF", "#FF8C00", "#FFFFFF"]}, "legend": null},
                         "stroke": {"field": "grp", "type": "nominal", "scale": {"domain": ["Male Sedentary", "Male Running", "Female Sedentary", "Female Running"], "range": ["#0B8A49", "#40AF6A", "#FF8C00", "#FFA64D"]}, "legend": null}}},
                      {"data": {"name": "bars"}, "transform": [{"filter": "datum.panel == 'b' && datum.sex == 'Male'"}], "mark": {"type": "rule", "strokeWidth": 1.5},
                       "encoding": {"xOffset": {"field": "activity", "type": "nominal"}, "y": {"field": "lo", "type": "quantitative"}, "y2": {"field": "hi"}, "color": {"condition": {"test": "datum.activity == 'Sedentary'", "value": "#111111"}, "value": "#40AF6A"}}},
                      {"data": {"name": "pts"}, "transform": [{"filter": "datum.panel == 'b' && datum.sex == 'Male'"}], "mark": {"type": "point", "shape": "circle", "size": 28, "strokeWidth": 1.2, "opacity": 1},
                       "encoding": {"xOffset": {"field": "activity", "type": "nominal"}, "fill": {"condition": {"test": "datum.activity == 'Sedentary'", "value": "#0A7A3C"}, "value": "transparent"}, "stroke": {"condition": {"test": "datum.activity == 'Sedentary'", "value": "#111111"}, "value": "#4DB86E"}}},
                      {"data": {"name": "brk"}, "transform": [{"filter": "datum.panel == 'b' && datum.sex == 'Male'"}], "mark": {"type": "line", "strokeWidth": 1.5, "color": "#444444"},
                       "encoding": {"xOffset": {"field": "activity", "type": "nominal"}, "detail": {"field": "housing"}, "order": {"field": "ord", "type": "quantitative"}}},
                      {"data": {"name": "hash"}, "transform": [{"filter": "datum.panel == 'b' && datum.sex == 'Male'"}], "mark": {"type": "text", "fontSize": 12, "color": "#000000"}, "encoding": {"text": {"field": "lab"}}}
                    ]
                  },
                  {
                    "width": 87, "height": 134,
                    "encoding": {
                      "x": {"field": "housing", "type": "nominal", "title": "Females", "scale": {"domain": ["Grouped", "Isolated"], "paddingInner": 0.25, "paddingOuter": 0.03}, "axis": {"labelAngle": 0, "labelFontSize": 10.5, "titleFontSize": 11, "tickSize": 4, "labelPadding": 2, "titlePadding": 2}},
                      "y": {"field": "v", "type": "quantitative", "scale": {"domain": [0, 60], "nice": false}, "axis": null}
                    },
                    "layer": [
                      {"data": {"name": "bars"}, "transform": [{"filter": "datum.panel == 'b' && datum.sex == 'Female'"}], "mark": {"type": "bar", "strokeWidth": 1.5},
                       "encoding": {"xOffset": {"field": "activity", "type": "nominal", "scale": {"domain": ["Sedentary", "Running"], "paddingInner": 0.3, "paddingOuter": 0.19}},
                         "fill": {"field": "grp", "type": "nominal", "scale": {"domain": ["Male Sedentary", "Male Running", "Female Sedentary", "Female Running"], "range": ["#0B8A49", "#FFFFFF", "#FF8C00", "#FFFFFF"]}, "legend": null},
                         "stroke": {"field": "grp", "type": "nominal", "scale": {"domain": ["Male Sedentary", "Male Running", "Female Sedentary", "Female Running"], "range": ["#0B8A49", "#40AF6A", "#FF8C00", "#FFA64D"]}, "legend": null}}},
                      {"data": {"name": "bars"}, "transform": [{"filter": "datum.panel == 'b' && datum.sex == 'Female'"}], "mark": {"type": "rule", "strokeWidth": 1.5},
                       "encoding": {"xOffset": {"field": "activity", "type": "nominal"}, "y": {"field": "lo", "type": "quantitative"}, "y2": {"field": "hi"}, "color": {"condition": {"test": "datum.activity == 'Sedentary'", "value": "#111111"}, "value": "#FFA64D"}}},
                      {"data": {"name": "pts"}, "transform": [{"filter": "datum.panel == 'b' && datum.sex == 'Female'"}], "mark": {"type": "point", "shape": "circle", "size": 28, "strokeWidth": 1.2, "opacity": 1},
                       "encoding": {"xOffset": {"field": "activity", "type": "nominal"}, "fill": {"condition": {"test": "datum.activity == 'Sedentary'", "value": "#F08A10"}, "value": "transparent"}, "stroke": {"condition": {"test": "datum.activity == 'Sedentary'", "value": "#222222"}, "value": "#FF9A3C"}}},
                      {"data": {"name": "brk"}, "transform": [{"filter": "datum.panel == 'b' && datum.sex == 'Female'"}], "mark": {"type": "line", "strokeWidth": 1.5, "color": "#444444"},
                       "encoding": {"xOffset": {"field": "activity", "type": "nominal"}, "detail": {"field": "housing"}, "order": {"field": "ord", "type": "quantitative"}}},
                      {"data": {"name": "hash"}, "transform": [{"filter": "datum.panel == 'b' && datum.sex == 'Female'"}], "mark": {"type": "text", "fontSize": 12, "color": "#000000"}, "encoding": {"text": {"field": "lab"}}}
                    ]
                  }
                ]
              }
            ]
          }
        ]
      },
      {
        "spacing": 14,
        "resolve": {"scale": {"fill": "independent", "stroke": "independent", "color": "independent", "xOffset": "independent"}, "legend": {"fill": "independent", "stroke": "independent", "color": "independent"}},
        "hconcat": [
          {
            "spacing": 0,
            "resolve": {"scale": {"fill": "independent", "stroke": "independent", "color": "independent", "xOffset": "independent"}, "legend": {"fill": "independent", "stroke": "independent", "color": "independent"}},
            "hconcat": [
              {"width": 1, "height": 1, "data": {"values": [{}]}, "mark": {"type": "point", "size": 0, "opacity": 0}, "encoding": {}},
              {
                "title": {"text": "d", "anchor": "start", "frame": "bounds", "fontSize": 22, "dx": -2, "offset": 2},
                "spacing": 6,
                "resolve": {"scale": {"fill": "independent", "stroke": "independent", "color": "independent", "xOffset": "independent"}, "legend": {"fill": "independent", "stroke": "independent", "color": "independent"}},
                "hconcat": [
                  {
                    "width": 86, "height": 134,
                    "encoding": {
                      "x": {"field": "housing", "type": "nominal", "title": "Males", "scale": {"domain": ["Grouped", "Isolated"], "paddingInner": 0.25, "paddingOuter": 0.03}, "axis": {"labelAngle": 0, "labelFontSize": 10.5, "titleFontSize": 11, "tickSize": 4, "labelPadding": 2, "titlePadding": 2}},
                      "y": {"field": "v", "type": "quantitative", "title": "DCX⁺ cells per section", "scale": {"domain": [0, 200], "nice": false}, "axis": {"values": [0, 50, 100, 150, 200], "labelFontSize": 11, "titleFontSize": 11.5, "tickSize": 5, "labelPadding": 2, "minExtent": 22, "maxExtent": 22, "titlePadding": 3}}
                    },
                    "layer": [
                      {"data": {"name": "bars"}, "transform": [{"filter": "datum.panel == 'd' && datum.sex == 'Male'"}], "mark": {"type": "bar", "strokeWidth": 1.5},
                       "encoding": {"xOffset": {"field": "activity", "type": "nominal", "scale": {"domain": ["Sedentary", "Running"], "paddingInner": 0.3, "paddingOuter": 0.19}},
                         "fill": {"field": "grp", "type": "nominal", "scale": {"domain": ["Male Sedentary", "Male Running", "Female Sedentary", "Female Running"], "range": ["#0B8A49", "#FFFFFF", "#FF8C00", "#FFFFFF"]}, "legend": null},
                         "stroke": {"field": "grp", "type": "nominal", "scale": {"domain": ["Male Sedentary", "Male Running", "Female Sedentary", "Female Running"], "range": ["#0B8A49", "#40AF6A", "#FF8C00", "#FFA64D"]}, "legend": null}}},
                      {"data": {"name": "bars"}, "transform": [{"filter": "datum.panel == 'd' && datum.sex == 'Male'"}], "mark": {"type": "rule", "strokeWidth": 1.5},
                       "encoding": {"xOffset": {"field": "activity", "type": "nominal"}, "y": {"field": "lo", "type": "quantitative"}, "y2": {"field": "hi"}, "color": {"condition": {"test": "datum.activity == 'Sedentary'", "value": "#111111"}, "value": "#40AF6A"}}},
                      {"data": {"name": "pts"}, "transform": [{"filter": "datum.panel == 'd' && datum.sex == 'Male'"}], "mark": {"type": "point", "shape": "circle", "size": 28, "strokeWidth": 1.2, "opacity": 1},
                       "encoding": {"xOffset": {"field": "activity", "type": "nominal"}, "fill": {"condition": {"test": "datum.activity == 'Sedentary'", "value": "#0A7A3C"}, "value": "transparent"}, "stroke": {"condition": {"test": "datum.activity == 'Sedentary'", "value": "#111111"}, "value": "#4DB877"}}},
                      {"data": {"name": "brk"}, "transform": [{"filter": "datum.panel == 'd' && datum.sex == 'Male'"}], "mark": {"type": "line", "strokeWidth": 1.5, "color": "#555555"},
                       "encoding": {"xOffset": {"field": "activity", "type": "nominal"}, "detail": {"field": "housing"}, "order": {"field": "ord", "type": "quantitative"}}},
                      {"data": {"name": "hash"}, "transform": [{"filter": "datum.panel == 'd' && datum.sex == 'Male'"}], "mark": {"type": "text", "fontSize": 12, "color": "#000000"}, "encoding": {"text": {"field": "lab"}}}
                    ]
                  },
                  {
                    "width": 87, "height": 134,
                    "encoding": {
                      "x": {"field": "housing", "type": "nominal", "title": "Females", "scale": {"domain": ["Grouped", "Isolated"], "paddingInner": 0.25, "paddingOuter": 0.03}, "axis": {"labelAngle": 0, "labelFontSize": 10.5, "titleFontSize": 11, "tickSize": 4, "labelPadding": 2, "titlePadding": 2}},
                      "y": {"field": "v", "type": "quantitative", "scale": {"domain": [0, 200], "nice": false}, "axis": null}
                    },
                    "layer": [
                      {"data": {"name": "bars"}, "transform": [{"filter": "datum.panel == 'd' && datum.sex == 'Female'"}], "mark": {"type": "bar", "strokeWidth": 1.5},
                       "encoding": {"xOffset": {"field": "activity", "type": "nominal", "scale": {"domain": ["Sedentary", "Running"], "paddingInner": 0.3, "paddingOuter": 0.19}},
                         "fill": {"field": "grp", "type": "nominal", "scale": {"domain": ["Male Sedentary", "Male Running", "Female Sedentary", "Female Running"], "range": ["#0B8A49", "#FFFFFF", "#FF8C00", "#FFFFFF"]}, "legend": null},
                         "stroke": {"field": "grp", "type": "nominal", "scale": {"domain": ["Male Sedentary", "Male Running", "Female Sedentary", "Female Running"], "range": ["#0B8A49", "#40AF6A", "#FF8C00", "#FFA64D"]}, "legend": null}}},
                      {"data": {"name": "bars"}, "transform": [{"filter": "datum.panel == 'd' && datum.sex == 'Female'"}], "mark": {"type": "rule", "strokeWidth": 1.5},
                       "encoding": {"xOffset": {"field": "activity", "type": "nominal"}, "y": {"field": "lo", "type": "quantitative"}, "y2": {"field": "hi"}, "color": {"condition": {"test": "datum.activity == 'Sedentary'", "value": "#111111"}, "value": "#FFA64D"}}},
                      {"data": {"name": "pts"}, "transform": [{"filter": "datum.panel == 'd' && datum.sex == 'Female'"}], "mark": {"type": "point", "shape": "circle", "size": 28, "strokeWidth": 1.2, "opacity": 1},
                       "encoding": {"xOffset": {"field": "activity", "type": "nominal"}, "fill": {"condition": {"test": "datum.activity == 'Sedentary'", "value": "#F08A10"}, "value": "transparent"}, "stroke": {"condition": {"test": "datum.activity == 'Sedentary'", "value": "#222222"}, "value": "#FF9A3C"}}},
                      {"data": {"name": "brk"}, "transform": [{"filter": "datum.panel == 'd' && datum.sex == 'Female'"}], "mark": {"type": "line", "strokeWidth": 1.5, "color": "#333333"},
                       "encoding": {"xOffset": {"field": "activity", "type": "nominal"}, "detail": {"field": "housing"}, "order": {"field": "ord", "type": "quantitative"}}},
                      {"data": {"name": "hash"}, "transform": [{"filter": "datum.panel == 'd' && datum.sex == 'Female'"}], "mark": {"type": "text", "fontSize": 12, "color": "#000000"}, "encoding": {"text": {"field": "lab"}}}
                    ]
                  }
                ]
              }
            ]
          },
          {
            "title": {"text": "e", "anchor": "start", "frame": "bounds", "fontSize": 22, "dx": -12, "offset": -12},
            "spacing": 6,
            "resolve": {"scale": {"fill": "independent", "stroke": "independent", "color": "independent", "xOffset": "independent"}, "legend": {"fill": "independent", "stroke": "independent", "color": "independent"}},
            "hconcat": [
              {
                "width": 86, "height": 134,
                "encoding": {
                  "x": {"field": "housing", "type": "nominal", "title": "Males", "scale": {"domain": ["Grouped", "Isolated"], "paddingInner": 0.25, "paddingOuter": 0.03}, "axis": {"labelAngle": 0, "labelFontSize": 10.5, "titleFontSize": 11, "tickSize": 4, "labelPadding": 2, "titlePadding": 2}},
                  "y": {"field": "v", "type": "quantitative", "title": "DCX⁺ cells per section", "scale": {"domain": [0, 200], "nice": false}, "axis": {"values": [0, 50, 100, 150, 200], "labelFontSize": 11, "titleFontSize": 11.5, "tickSize": 5, "labelPadding": 2, "minExtent": 22, "maxExtent": 22, "titlePadding": 3}}
                },
                "layer": [
                  {"data": {"name": "bars"}, "transform": [{"filter": "datum.panel == 'e' && datum.sex == 'Male'"}], "mark": {"type": "bar", "strokeWidth": 1.5},
                   "encoding": {"xOffset": {"field": "activity", "type": "nominal", "scale": {"domain": ["Sedentary", "Running"], "paddingInner": 0.3, "paddingOuter": 0.19}},
                     "fill": {"field": "grp", "type": "nominal", "scale": {"domain": ["Male Sedentary", "Male Running", "Female Sedentary", "Female Running"], "range": ["#0B8A49", "#FFFFFF", "#FF8C00", "#FFFFFF"]}, "legend": null},
                     "stroke": {"field": "grp", "type": "nominal", "scale": {"domain": ["Male Sedentary", "Male Running", "Female Sedentary", "Female Running"], "range": ["#0B8A49", "#40AF6A", "#FF8C00", "#FFA64D"]}, "legend": null}}},
                  {"data": {"name": "bars"}, "transform": [{"filter": "datum.panel == 'e' && datum.sex == 'Male'"}], "mark": {"type": "rule", "strokeWidth": 1.5},
                   "encoding": {"xOffset": {"field": "activity", "type": "nominal"}, "y": {"field": "lo", "type": "quantitative"}, "y2": {"field": "hi"}, "color": {"condition": {"test": "datum.activity == 'Sedentary'", "value": "#111111"}, "value": "#40AF6A"}}},
                  {"data": {"name": "pts"}, "transform": [{"filter": "datum.panel == 'e' && datum.sex == 'Male'"}], "mark": {"type": "point", "shape": "circle", "size": 28, "strokeWidth": 1.2, "opacity": 1},
                   "encoding": {"xOffset": {"field": "activity", "type": "nominal"}, "fill": {"condition": {"test": "datum.activity == 'Sedentary'", "value": "#0A7A3C"}, "value": "transparent"}, "stroke": {"condition": {"test": "datum.activity == 'Sedentary'", "value": "#111111"}, "value": "#4DB877"}}},
                  {"data": {"name": "brk"}, "transform": [{"filter": "datum.panel == 'e' && datum.sex == 'Male'"}], "mark": {"type": "line", "strokeWidth": 1.5, "color": "#333333"},
                   "encoding": {"xOffset": {"field": "activity", "type": "nominal"}, "detail": {"field": "housing"}, "order": {"field": "ord", "type": "quantitative"}}},
                  {"data": {"name": "hash"}, "transform": [{"filter": "datum.panel == 'e' && datum.sex == 'Male'"}], "mark": {"type": "text", "fontSize": 12, "color": "#000000"}, "encoding": {"text": {"field": "lab"}}}
                ]
              },
              {
                "width": 87, "height": 134,
                "encoding": {
                  "x": {"field": "housing", "type": "nominal", "title": "Females", "scale": {"domain": ["Grouped", "Isolated"], "paddingInner": 0.25, "paddingOuter": 0.03}, "axis": {"labelAngle": 0, "labelFontSize": 10.5, "titleFontSize": 11, "tickSize": 4, "labelPadding": 2, "titlePadding": 2}},
                  "y": {"field": "v", "type": "quantitative", "scale": {"domain": [0, 200], "nice": false}, "axis": null}
                },
                "layer": [
                  {"data": {"name": "bars"}, "transform": [{"filter": "datum.panel == 'e' && datum.sex == 'Female'"}], "mark": {"type": "bar", "strokeWidth": 1.5},
                   "encoding": {"xOffset": {"field": "activity", "type": "nominal", "scale": {"domain": ["Sedentary", "Running"], "paddingInner": 0.3, "paddingOuter": 0.19}},
                     "fill": {"field": "grp", "type": "nominal", "scale": {"domain": ["Male Sedentary", "Male Running", "Female Sedentary", "Female Running"], "range": ["#0B8A49", "#FFFFFF", "#FF8C00", "#FFFFFF"]}, "legend": null},
                     "stroke": {"field": "grp", "type": "nominal", "scale": {"domain": ["Male Sedentary", "Male Running", "Female Sedentary", "Female Running"], "range": ["#0B8A49", "#40AF6A", "#FF8C00", "#FFA64D"]}, "legend": null}}},
                  {"data": {"name": "bars"}, "transform": [{"filter": "datum.panel == 'e' && datum.sex == 'Female'"}], "mark": {"type": "rule", "strokeWidth": 1.5},
                   "encoding": {"xOffset": {"field": "activity", "type": "nominal"}, "y": {"field": "lo", "type": "quantitative"}, "y2": {"field": "hi"}, "color": {"condition": {"test": "datum.activity == 'Sedentary'", "value": "#111111"}, "value": "#FFA64D"}}},
                  {"data": {"name": "pts"}, "transform": [{"filter": "datum.panel == 'e' && datum.sex == 'Female'"}], "mark": {"type": "point", "shape": "circle", "size": 28, "strokeWidth": 1.2, "opacity": 1},
                   "encoding": {"xOffset": {"field": "activity", "type": "nominal"}, "fill": {"condition": {"test": "datum.activity == 'Sedentary'", "value": "#F08A10"}, "value": "transparent"}, "stroke": {"condition": {"test": "datum.activity == 'Sedentary'", "value": "#222222"}, "value": "#FF9A3C"}}},
                  {"data": {"name": "brk"}, "transform": [{"filter": "datum.panel == 'e' && datum.sex == 'Female'"}], "mark": {"type": "line", "strokeWidth": 1.5, "color": "#444444"},
                   "encoding": {"xOffset": {"field": "activity", "type": "nominal"}, "detail": {"field": "housing"}, "order": {"field": "ord", "type": "quantitative"}}},
                  {"data": {"name": "hash"}, "transform": [{"filter": "datum.panel == 'e' && datum.sex == 'Female'"}], "mark": {"type": "text", "fontSize": 12, "color": "#000000"}, "encoding": {"text": {"field": "lab"}}}
                ]
              }
            ]
          }
        ]
      }
    ]
  },
  {
    "spacing": 17,
    "resolve": {"scale": {"fill": "independent", "stroke": "independent", "color": "independent", "xOffset": "independent"}, "legend": {"fill": "independent", "stroke": "independent", "color": "independent"}},
    "vconcat": [
      {
        "spacing": 22,
        "resolve": {"scale": {"fill": "independent", "stroke": "independent", "color": "independent", "xOffset": "independent"}, "legend": {"fill": "independent", "stroke": "independent", "color": "independent"}},
        "vconcat": [
          {"width": 6, "height": 1, "data": {"values": [{}]}, "mark": {"type": "point", "size": 0, "opacity": 0}, "encoding": {}},
          {
            "spacing": 5,
            "resolve": {"scale": {"fill": "independent", "stroke": "independent", "color": "independent", "xOffset": "independent"}, "legend": {"fill": "independent", "stroke": "independent", "color": "independent"}},
            "hconcat": [
              {"width": 6, "height": 1, "title": {"text": "c", "fontSize": 22, "offset": 17, "anchor": "middle"}, "data": {"values": [{}]}, "mark": {"type": "point", "size": 0, "opacity": 0}, "encoding": {}},
              {
                "data": {"name": "heat"},
                "spacing": {"row": 6, "column": 8},
                "facet": {
                  "row": {"field": "region", "type": "nominal", "sort": ["dHPC", "vHPC"], "header": {"title": null, "labelFontSize": 13, "labelPadding": 4}},
                  "column": {"field": "sex", "type": "nominal", "sort": ["Male", "Female"], "header": {"title": null, "labelFontSize": 13, "labelPadding": 7}}
                },
                "spec": {
                  "width": 91, "height": 65,
                  "view": {"stroke": "#333333", "strokeWidth": 1},
                  "encoding": {
                    "x": {"field": "housing", "type": "nominal", "sort": ["Grouped", "Isolated"], "scale": {"paddingInner": 0, "paddingOuter": 0}, "axis": {"orient": "top", "title": null, "labelAngle": 0, "labelFontSize": 10.5, "tickSize": 3, "domain": false, "labelPadding": 1}},
                    "y": {"field": "marker", "type": "nominal", "sort": ["Ki-67⁺", "DCX⁺"], "scale": {"paddingInner": 0, "paddingOuter": 0}, "axis": {"title": null, "labelFontSize": 10.5, "tickSize": 4, "domain": false, "labelPadding": 2}}
                  },
                  "layer": [
                    {"mark": {"type": "rect"},
                     "encoding": {"color": {"field": "r", "type": "quantitative",
                       "scale": {"type": "linear", "domain": [-1, -0.75, -0.5, -0.25, 0, 0.3, 0.45, 0.6, 0.75, 1], "range": ["#ff33ff", "#8a3cff", "#0040ff", "#00ffff", "#00ee99", "#00ee00", "#99f000", "#ffff00", "#ff9900", "#ff1a00"], "interpolate": "rgb"},
                       "legend": {"title": null, "orient": "right", "offset": 11, "direction": "vertical", "gradientLength": 136, "gradientThickness": 17, "gradientStrokeColor": "#000000", "gradientStrokeWidth": 1, "values": [-1, -0.5, 0, 0.5, 1], "labelFontSize": 10.5, "labelOverlap": false, "labelExpr": "datum.value == 0 ? '0' : replace(format(datum.value, '.1f'), '\u2212', '-')"}}}},
                    {"mark": {"type": "text", "fontSize": 11.5, "color": "#000000"}, "encoding": {"text": {"field": "r", "type": "quantitative", "format": ".2f"}}},
                    {"transform": [{"filter": "datum.sig == '*'"}], "mark": {"type": "text", "fontSize": 17, "dx": 15, "dy": -3, "color": "#000000"}, "encoding": {"text": {"field": "sig"}}}
                  ]
                }
              }
            ]
          }
        ]
      },
      {
        "title": {"text": "f", "anchor": "start", "frame": "bounds", "fontSize": 22, "offset": -50},
        "spacing": 51,
        "resolve": {"scale": {"fill": "independent", "stroke": "independent", "color": "independent", "xOffset": "independent"}, "legend": {"fill": "independent", "stroke": "independent", "color": "independent"}},
        "hconcat": [
          {"width": 1, "height": 1, "data": {"values": [{}]}, "mark": {"type": "point", "size": 0, "opacity": 0}, "encoding": {}},
          {
            "width": 140, "height": 140,
            "encoding": {
              "x": {"field": "x", "type": "quantitative", "title": "DCX⁺ cells per section", "scale": {"domain": [50, 200], "nice": false, "zero": false}, "axis": {"values": [50, 100, 150, 200], "labelFontSize": 11, "titleFontSize": 11.5, "tickSize": 5, "labelPadding": 2, "titlePadding": 5}},
              "y": {"field": "y", "type": "quantitative", "title": "Average % Freezing at Test", "scale": {"domain": [0, 100], "nice": false}, "axis": {"values": [0, 20, 40, 60, 80, 100], "labelFontSize": 11, "titleFontSize": 11.5, "tickSize": 5, "labelPadding": 2, "titlePadding": 4}},
              "color": {"field": "grp", "type": "nominal", "scale": {"domain": ["Isolated Male (r=0.05, p=0.91)", "Isolated Female (r=0.91, p=0.002)"], "range": ["#0B8A2E", "#FF8C00"]},
                "legend": {"title": null, "orient": "none", "legendX": -30, "legendY": -49, "symbolType": "M-1,0H1M-0.5,-0.5H0.5V0.5H-0.5Z", "symbolSize": 225, "symbolStrokeWidth": 1.5, "labelFontSize": 11, "labelOffset": 7, "rowPadding": 3, "labelLimit": 300,
                  "labelExpr": "datum.label + (indexof(datum.label, 'Female') >= 0 ? ' *' : '')",
                  "encode": {"symbols": {"update": {"fill": {"signal": "indexof(datum.value, 'Female') >= 0 ? '#FF8C00' : '#0B8A2E'"}, "stroke": {"signal": "indexof(datum.value, 'Female') >= 0 ? '#FF8C00' : '#0B8A2E'"}, "opacity": {"value": 1}}}}}}
            },
            "layer": [
              {"data": {"name": "reg"}, "mark": {"type": "line", "strokeWidth": 1.5}},
              {"data": {"name": "scat"}, "transform": [{"filter": "datum.activity == 'Sedentary'"}], "mark": {"type": "point", "shape": "square", "filled": true, "size": 55, "opacity": 1}},
              {"data": {"name": "scat"}, "transform": [{"filter": "datum.activity == 'Running'"}], "mark": {"type": "point", "shape": "square", "filled": false, "size": 55, "strokeWidth": 1.5, "opacity": 1}}
            ]
          }
        ]
      }
    ]
  }
]
}
